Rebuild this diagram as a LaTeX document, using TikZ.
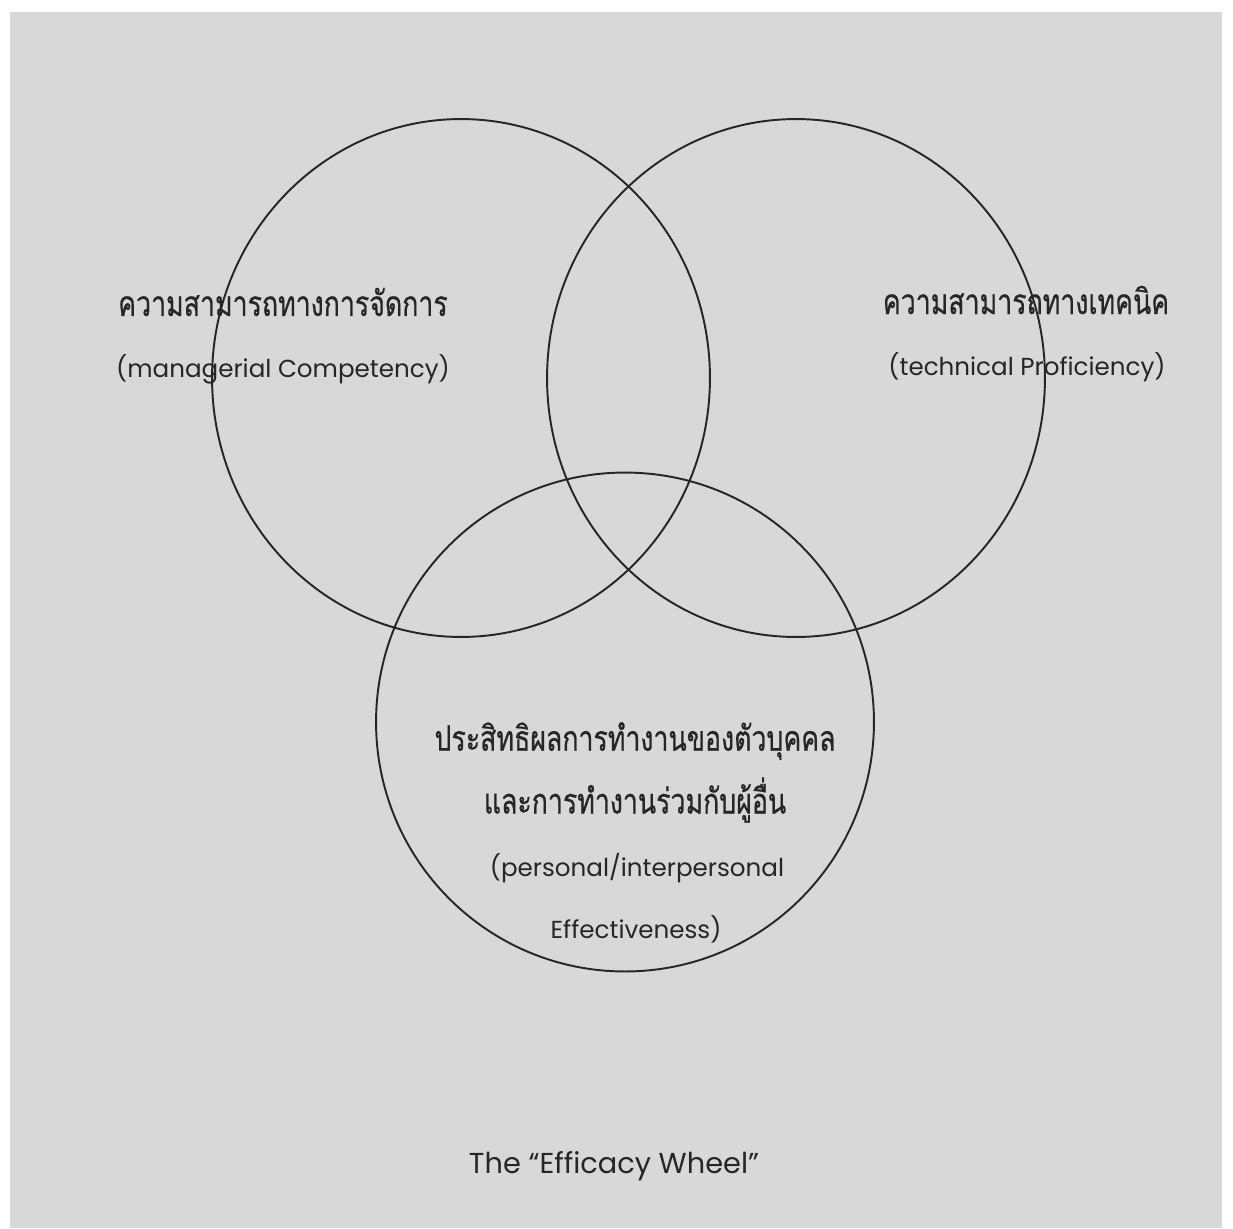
\documentclass[tikz,border=0pt]{standalone}
\usepackage{fontspec}
\setmainfont{Poppins}
\newfontfamily\thaifont[Script=Thai,FakeStretch=0.76,FakeBold=0.6]{Loma}
\usetikzlibrary{shapes.geometric}
\definecolor{scan}{RGB}{216,216,216}
\definecolor{ink}{RGB}{38,38,38}
\begin{document}
\begin{tikzpicture}[x=0.02cm, y=-0.02cm,
  ring/.style={draw=ink,ellipse,line width=1.1pt,inner sep=0pt,minimum width=9.96cm},
  thai/.style={font=\thaifont\fontsize{20}{24}\selectfont,text=ink,inner sep=0pt},
  eng/.style={font=\fontsize{14}{17}\selectfont,text=ink,inner sep=0pt}]
\useasboundingbox (0,0) rectangle (1233,1228);
\fill[white] (0,0) rectangle (1233,1228);
\fill[scan] (10,12) rectangle (1222,1228);
% the three circles
\node[ring,minimum height=10.36cm] (mgr) at (461,378) {};
\node[ring,minimum height=10.36cm] (tec) at (796,378) {};
\node[ring,minimum height=9.98cm] (per) at (625,722) {};
% labels
\node[thai] (mgrth) at (283,302) {ความสามารถทางการจัดการ};
\node[eng] (mgren) at (283,369) {(managerial Competency)};
\node[thai] (tecth) at (1026,300) {ความสามารถทางเทคนิค};
\node[eng] (tecen) at (1027,367) {(technical Proficiency)};
\node[thai] (perth) at (635,741) {ประสิทธิผลการทำงานของตัวบุคคล};
\node[thai] (perth2) at (635,800) {และการทำงานร่วมกับผู้อื่น};
\node[eng] (peren) at (637,868) {(personal/interpersonal};
\node[eng] (peren2) at (636,929) {Effectiveness)};
\node[eng,font=\fontsize{16.4}{19}\selectfont] (title) at (614,1166) {The “Efficacy Wheel”};
\end{tikzpicture}
\end{document}
